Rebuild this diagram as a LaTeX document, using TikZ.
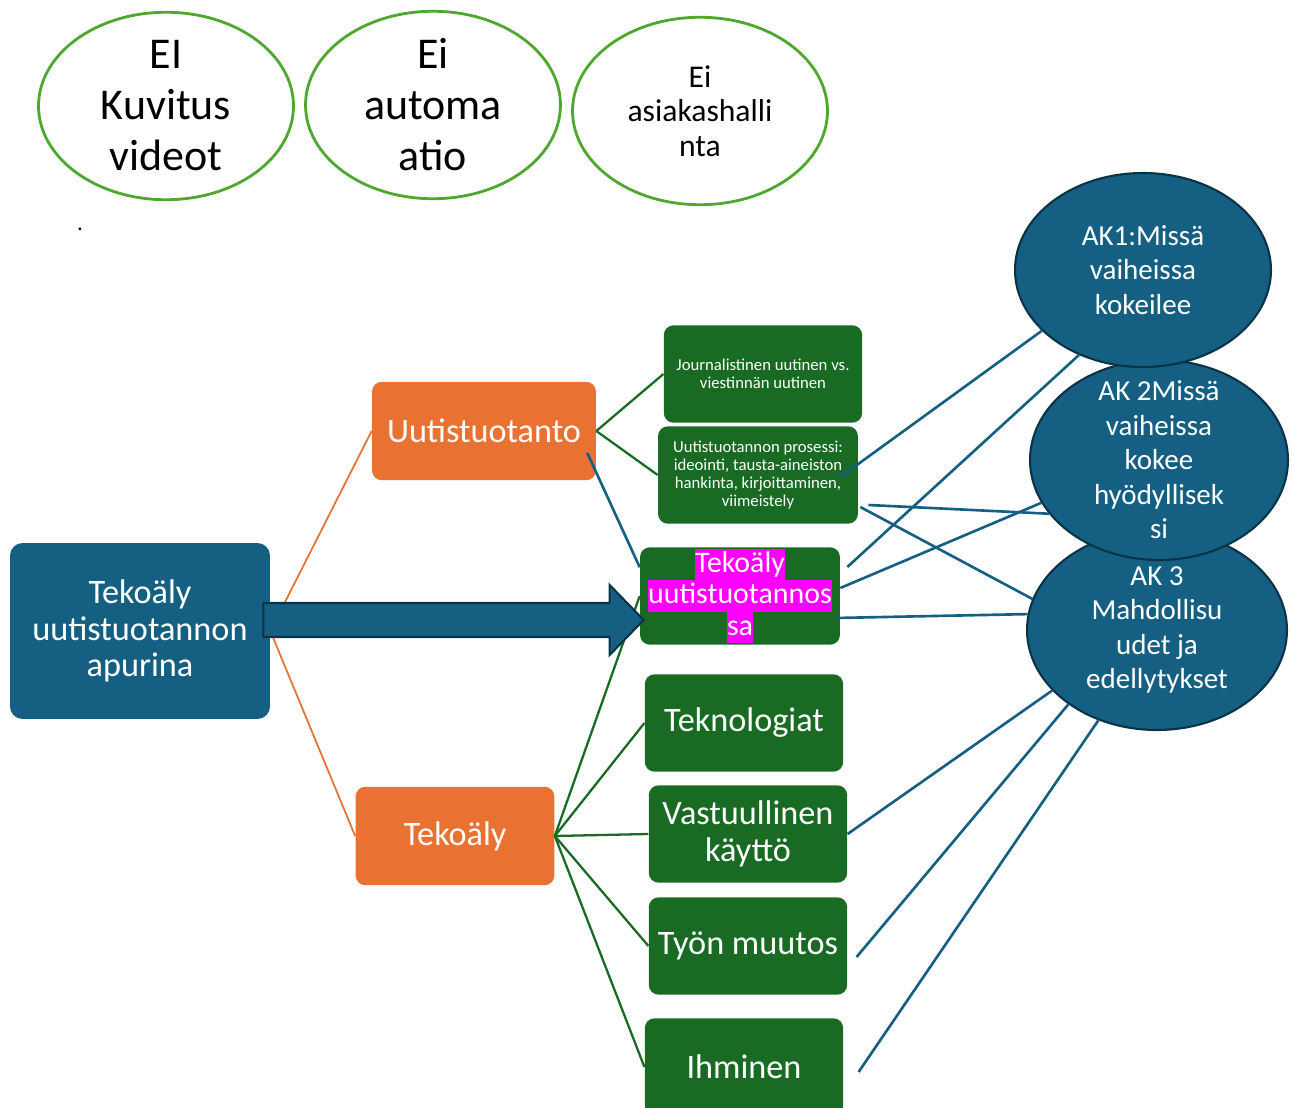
\documentclass[tikz,border=0pt]{standalone}
\usepackage{fontspec}
\setmainfont{Carlito}
\usetikzlibrary{shapes.geometric,calc}
\definecolor{akblue}{HTML}{156082}
\definecolor{akdark}{HTML}{0B3346}
\definecolor{utorange}{HTML}{E97132}
\definecolor{utgreen}{HTML}{196B24}
\definecolor{eigreen}{HTML}{4EA72E}
\definecolor{hlpink}{HTML}{FF00FF}
\newcommand{\pinkline}[1]{{\fboxsep=0pt\colorbox{hlpink}{\rule[-4.5pt]{0pt}{18pt}#1}}}

\begin{document}
\begin{tikzpicture}[x=0.02cm, y=-0.02cm,
    eibubble/.style={ellipse, draw=eigreen, line width=1.6pt, fill=white, inner sep=0pt,
      minimum width=5.1cm, minimum height=3.75cm, align=center, text=black},
    akbubble/.style={ellipse, draw=akdark, line width=1.2pt, fill=akblue, inner xsep=0pt,
      inner ysep=-12pt, text=white, align=center, font=\fontsize{16.5}{19.6}\selectfont},
    mainbox/.style={rounded corners=0.25cm, fill=akblue, text=white, align=center,
      minimum width=5.2cm, minimum height=3.52cm, font=\fontsize{19.5}{20.7}\selectfont},
    topicbox/.style={rounded corners=0.2cm, fill=utorange, text=white,
      minimum height=1.97cm, font=\fontsize{19.5}{21}\selectfont},
    themebox/.style={rounded corners=0.2cm, fill=utgreen, text=white, align=center,
      minimum width=3.97cm, minimum height=1.95cm, font=\fontsize{19.5}{21}\selectfont},
    orangeline/.style={draw=utorange, line width=1pt},
    greenline/.style={draw=utgreen, line width=1.3pt},
    blueline/.style={draw=akblue, line width=1.5pt},
    bigarrow/.style={fill=akblue, draw=akdark, line width=1.2pt, line join=miter}
  ]
    \clip (0,0) rectangle (1292,1108);

    % rajaukset ylhaalla
    \node[eibubble, font=\fontsize{25}{29}\selectfont] (ei1) at (166,106) {EI\\Kuvitus\\videot};
    \node[eibubble, font=\fontsize{25}{29}\selectfont] (ei2) at (433,105) {Ei\\automa\\atio};
    \node[eibubble, font=\fontsize{18}{19.6}\selectfont] (ei3) at (700,111) {Ei\\asiakashalli\\nta};
    \node[font=\fontsize{13}{13}\selectfont, inner sep=0pt] (piste) at (80,229) {.};

    % paa- ja alateemat
    \node[mainbox] (apuri) at (140,631) {Tekoäly\\uutistuotannon\\apurina};
    \node[topicbox, minimum width=4.48cm] (uutis) at (484,431) {Uutistuotanto};
    \node[topicbox, minimum width=3.98cm] (tekoaly) at (455,836) {Tekoäly};

    \node[themebox, font=\fontsize{9.5}{10.2}\selectfont] (journ) at (763,374)
      {Journalistinen uutinen vs.\\viestinnän uutinen};
    \node[themebox, minimum width=4cm, font=\fontsize{9.5}{10.2}\selectfont] (prosessi) at (758,475)
      {Uutistuotannon prosessi:\\ideointi, tausta-aineiston\\hankinta, kirjoittaminen,\\viimeistely};
    \node[themebox, minimum width=4cm, inner sep=0pt, font=\fontsize{17}{18}\selectfont] (tekuut) at (740,596)
      {\pinkline{Tekoäly}\\\pinkline{uutistuotannos}\\\pinkline{sa}};
    \node[themebox] (tekno) at (744,723) {Teknologiat};
    \node[themebox] (vastuu) at (748,834) {Vastuullinen\\käyttö};
    \node[themebox] (tyo) at (748,946) {Työn muutos};
    \node[themebox] (ihminen) at (744,1067) {Ihminen};

    % tutkimuskysymykset
    \node[akbubble, minimum width=5.2cm, minimum height=4cm] (ak3) at (1157,630)
      {AK 3\\Mahdollisu\\udet ja\\edellytykset};
    \node[akbubble, minimum width=5.16cm, minimum height=4cm] (ak2) at (1159,460)
      {AK 2Missä\\vaiheissa\\kokee\\hyödyllisek\\si};
    \node[akbubble, minimum width=5.12cm, minimum height=3.88cm] (ak1) at (1143,270)
      {AK1:Missä\\vaiheissa\\kokeilee};

    % viivat
    \draw[orangeline] (apuri.east) -- (uutis.west);
    \draw[orangeline] (apuri.east) -- (tekoaly.west);
    \draw[greenline] (uutis.east) -- (journ.west);
    \draw[greenline] (uutis.east) -- (prosessi.west);
    \foreach \t in {tekuut, tekno, vastuu, tyo, ihminen}
      \draw[greenline] (tekoaly.east) -- (\t.west);

    \draw[blueline] ($(uutis.east)+(-9,22)$) -- (tekuut.164);
    \draw[blueline] ($(prosessi.east)+(-18,2)$) -- (ak1.211);
    \draw[blueline] ($(tekuut.east)+(7,-29)$) -- (ak1.233);
    \draw[blueline] ($(prosessi.east)+(10,30)$) -- (ak2.206);
    \draw[blueline] ($(prosessi.east)+(2,32)$) -- (ak3.166);
    \draw[blueline] ($(tekuut.east)+(0,-8)$) -- (ak2.200);
    \draw[blueline] ($(tekuut.east)+(-5,22)$) -- (ak3.173);
    \draw[blueline] (vastuu.east) -- (ak3.210);
    \draw[blueline] ($(tyo.east)+(9,11)$) -- (ak3.220);
    \draw[blueline] ($(ihminen.east)+(15,5)$) -- (ak3.237);

    % iso nuoli
    \coordinate (as) at ($(apuri.east)+(-7,-11)$);
    \coordinate (at) at ($(tekuut.west)+(4,24)$);
    \draw[bigarrow] ($(as)+(0,-17)$) -- ($(at)+(-34,-17)$) -- ($(at)+(-34,-35)$) -- (at)
      -- ($(at)+(-34,35)$) -- ($(at)+(-34,17)$) -- ($(as)+(0,17)$) -- cycle;
\end{tikzpicture}
\end{document}
